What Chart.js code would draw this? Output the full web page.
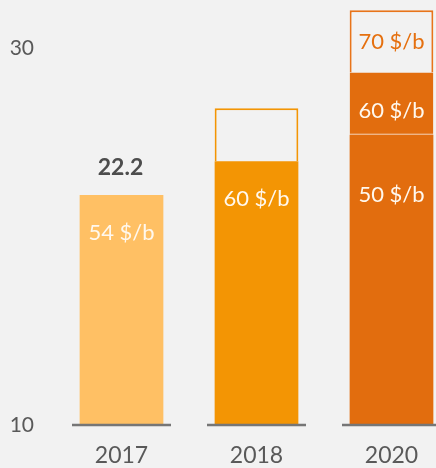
<!DOCTYPE html>
<html>
<head>
<meta charset="utf-8">
<script src="https://cdn.jsdelivr.net/npm/chart.js@4.4.0/dist/chart.umd.min.js"></script>
<style>
  html, body { margin: 0; padding: 0; background: #F2F2F2; overflow: hidden; }
  #wrap { width: 459px; height: 468px; }
</style>
</head>
<body>
<div id="wrap"><canvas id="chart" width="459" height="468"></canvas></div>
<script>
// categories and values
const years = ['2017', '2018', '2020'];
const yTicks = [10, 30];
const baseValues = [22.2, 24.0, 25.4];
const midValues = [null, null, 28.7];
const topValues = [null, 26.8, 32.0];
const baseLabels = ['54 $/b', '60 $/b', '50 $/b'];
const midLabels = [null, null, '60 $/b'];
const topLabels = [null, null, '70 $/b'];

// styles
const barColors = ['#FFC064', '#F39504', '#E26D0E'];
const outlineColors = ['#F39504', '#F39504', '#E8741A'];
const textGrey = '#595959';
const fontFamily = 'Lato, "Open Sans", sans-serif';
const axisMin = yTicks[0];

const baseData = baseValues.map(v => [axisMin, v]);
const midData = midValues.map((v, i) => v == null ? null : [baseValues[i], v]);
const topData = topValues.map((v, i) => {
    if (v == null) return null;
    const low = midValues[i] != null ? midValues[i] : baseValues[i];
    return [low, v];
});

// bar text labels
const barLabelPlugin = {
    id: 'barLabels',
    afterDatasetsDraw(chart) {
        const ctx = chart.ctx;
        ctx.save();
        ctx.textAlign = 'center';
        ctx.textBaseline = 'middle';

        const baseBars = chart.getDatasetMeta(0).data;
        const midBars = chart.getDatasetMeta(1).data;
        const topBars = chart.getDatasetMeta(2).data;
        const baseOffsets = [38, 38, 60];

        baseBars.forEach((bar, i) => {
            ctx.font = '22px ' + fontFamily;
            ctx.fillStyle = '#FFF8EE';
            ctx.fillText(baseLabels[i], bar.x, bar.y + baseOffsets[i]);
        });

        // value above the first bar
        const first = baseBars[0];
        ctx.font = 'bold 23px ' + fontFamily;
        ctx.fillStyle = '#4D4D4D';
        ctx.fillText(baseValues[0].toFixed(1), first.x - 1, first.y - 27);

        midBars.forEach((bar, i) => {
            if (!midLabels[i] || midValues[i] == null) return;
            ctx.font = '22px ' + fontFamily;
            ctx.fillStyle = '#FFF8EE';
            ctx.fillText(midLabels[i], bar.x, bar.y + 38);
        });

        topBars.forEach((bar, i) => {
            if (!topLabels[i] || topValues[i] == null) return;
            ctx.font = '22px ' + fontFamily;
            ctx.fillStyle = '#E5700F';
            ctx.fillText(topLabels[i], bar.x, (bar.y + bar.base) / 2);
        });
        ctx.restore();
    }
};

// short baseline under each bar
const baselinePlugin = {
    id: 'baselines',
    afterDatasetsDraw(chart) {
        const ctx = chart.ctx;
        const x = chart.scales.x;
        const y = chart.scales.y.getPixelForValue(axisMin);
        ctx.save();
        ctx.strokeStyle = '#767676';
        ctx.lineWidth = 2.5;
        years.forEach((_, i) => {
            const cx = x.getPixelForValue(i);
            ctx.beginPath();
            ctx.moveTo(cx - 49.5, y);
            ctx.lineTo(cx + 49.5, y);
            ctx.stroke();
        });
        ctx.restore();
    }
};

new Chart(document.getElementById('chart'), {
    type: 'bar',
    data: {
        labels: years,
        datasets: [
            {
                data: baseData,
                backgroundColor: barColors,
                borderWidth: 0
            },
            {
                data: midData,
                backgroundColor: barColors,
                borderColor: '#F4AF7C',
                borderWidth: { top: 0, left: 0, right: 0, bottom: 1 },
                borderSkipped: false
            },
            {
                data: topData,
                backgroundColor: '#F2F2F2',
                borderColor: outlineColors,
                borderWidth: 2
            }
        ]
    },
    options: {
        responsive: false,
        animation: false,
        layout: { padding: 0 },
        datasets: {
            bar: {
                grouped: false,
                categoryPercentage: 1,
                barPercentage: 0.62
            }
        },
        plugins: {
            legend: { display: false },
            tooltip: { enabled: false }
        },
        scales: {
            x: {
                grid: { display: false, drawTicks: false },
                border: { display: false },
                ticks: {
                    padding: 17,
                    color: textGrey,
                    font: { family: fontFamily, size: 23 }
                },
                afterFit(scale) {
                    scale.height = 43;
                    scale.paddingLeft = 0;
                    scale.paddingRight = 0;
                }
            },
            y: {
                min: axisMin,
                max: 32.55,
                grid: { display: false, drawTicks: false },
                border: { display: false },
                afterBuildTicks(scale) {
                    scale.ticks = yTicks.map(v => ({ value: v }));
                },
                ticks: {
                    padding: 20,
                    color: textGrey,
                    font: { family: fontFamily, size: 21 }
                },
                afterFit(scale) {
                    scale.width = 54;
                    scale.paddingTop = 0;
                    scale.paddingBottom = 0;
                }
            }
        }
    },
    plugins: [barLabelPlugin, baselinePlugin]
});
</script>
</body>
</html>
